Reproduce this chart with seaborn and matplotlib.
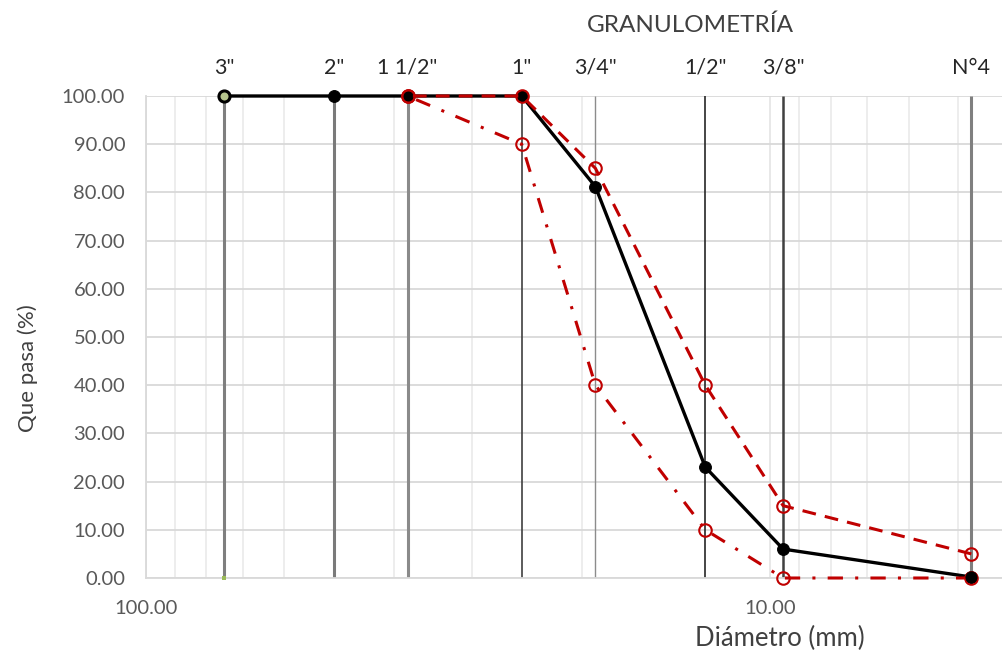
import matplotlib
matplotlib.use("Agg")
import matplotlib.pyplot as plt
import matplotlib.ticker as mticker
import seaborn as sns
import pandas as pd

# Sieve series (ASTM) and their openings in mm
sieve_labels = ['3"', '2"', '1 1/2"', '1"', '3/4"', '1/2"', '3/8"', 'N°4']
sieve_mm = [75.0, 50.0, 38.1, 25.0, 19.05, 12.7, 9.53, 4.76]

# Percent passing of the sample
passing = [100.0, 100.0, 100.0, 100.0, 81.2, 23.0, 6.0, 0.2]

# Specification band (from 1 1/2" down to N°4)
band_mm = [38.1, 25.0, 19.05, 12.7, 9.53, 4.76]
band_upper = [100, 100, 85, 40, 15, 5]
band_lower = [100, 90, 40, 10, 0, 0]

y_ticks = [0, 10, 20, 30, 40, 50, 60, 70, 80, 90, 100]

sns.set_theme(style="white")
plt.rcParams['font.family'] = ['Lato', 'DejaVu Sans']

W, H = 1002, 655
fig = plt.figure(figsize=(W / 100, H / 100), dpi=100)
ax = fig.add_axes([146 / W, 1 - 578 / H, (1002 - 146) / W, (578 - 96) / H])

RED = '#c00000'
TXT = '#595959'

ax.set_xscale('log')
ax.set_xlim(100, 4.25)
ax.set_ylim(0, 100)

# grid
ax.set_yticks(y_ticks)
ax.yaxis.set_major_formatter(mticker.FormatStrFormatter('%.2f'))
ax.xaxis.set_major_locator(mticker.FixedLocator([100, 10]))
ax.xaxis.set_major_formatter(mticker.FormatStrFormatter('%.2f'))
ax.xaxis.set_minor_locator(mticker.LogLocator(base=10, subs=range(2, 10)))
ax.xaxis.set_minor_formatter(mticker.NullFormatter())
ax.grid(True, which='major', axis='y', color='#d9d9d9', lw=1.3)
ax.grid(True, which='major', axis='x', color='#e6e6e6', lw=1.3)
ax.grid(True, which='minor', axis='x', color='#ececec', lw=1.3)
ax.set_axisbelow(True)
ax.tick_params(axis='both', which='both', length=0)
ax.tick_params(axis='y', pad=15, labelsize=14.5, labelcolor=TXT)
ax.tick_params(axis='x', pad=16, labelsize=14.5, labelcolor=TXT)
for side in ['top', 'right']:
    ax.spines[side].set_visible(False)
for side in ['left', 'bottom']:
    ax.spines[side].set_color('#d9d9d9')
    ax.spines[side].set_linewidth(1.3)

# vertical sieve lines
sieve_styles = [('#7f7f7f', 2.2), ('#7a7a7a', 2.2), ('#8a8a8a', 2.2), ('#3f3f3f', 1.2),
                ('#8c8c8c', 1.0), ('#262626', 1.2), ('#404040', 1.8), ('#7f7f7f', 2.2)]
for mm, (c, lw) in zip(sieve_mm, sieve_styles):
    ax.vlines(mm, 0, 100, colors=c, lw=lw, zorder=1.5)

# sieve names along the top
top = ax.secondary_xaxis('top')
top.set_xticks(sieve_mm, sieve_labels)
top.xaxis.set_minor_locator(mticker.NullLocator())
top.tick_params(length=0, pad=13, labelsize=15.5, labelcolor='#262626')
top.spines['top'].set_visible(False)

# sample curve
df = pd.DataFrame({'mm': sieve_mm, 'pasa': passing})
sns.lineplot(data=df, x='mm', y='pasa', ax=ax, color='black', lw=2.4,
             marker='o', markersize=8.5, markeredgecolor='black',
             markerfacecolor='black', clip_on=False, zorder=4)
sns.scatterplot(x=sieve_mm[:1], y=passing[:1], ax=ax, s=64, color='#b5c48c',
                edgecolor='black', linewidth=2.2, clip_on=False, zorder=5)
sns.scatterplot(x=sieve_mm[:1], y=[0], ax=ax, s=12, marker='s', color='#9bbb59',
                linewidth=0, clip_on=False, zorder=5)

# specification limits
bdf = pd.DataFrame({'mm': band_mm, 'sup': band_upper, 'inf': band_lower})
sns.lineplot(data=bdf, x='mm', y='sup', ax=ax, color=RED, lw=2.2,
             marker='o', markersize=9, markerfacecolor='none',
             markeredgecolor=RED, markeredgewidth=1.5, clip_on=False, zorder=5)
ax.lines[-1].set_dashes([4.5, 3])
sns.lineplot(data=bdf, x='mm', y='inf', ax=ax, color=RED, lw=2.2,
             marker='o', markersize=9, markerfacecolor='none',
             markeredgecolor=RED, markeredgewidth=1.5, clip_on=False, zorder=5)
ax.lines[-1].set_dashes([5, 4, 1, 4])

# black marker at N°4 on top of the red ones
sns.scatterplot(x=sieve_mm[-1:], y=passing[-1:], ax=ax, s=64, color='black',
                edgecolor='black', clip_on=False, zorder=6)

ax.set_xlabel('')
ax.set_ylabel('')
fig.text(780 / W, 1 - 638 / H, 'Diámetro (mm)', ha='center', va='center',
         fontsize=18.5, color='#404040')
fig.text(28 / W, 1 - 368 / H, 'Que pasa (%)', ha='center', va='center',
         rotation=90, fontsize=16, color='#404040')
fig.text(690 / W, 1 - 25 / H, 'GRANULOMETRÍA', ha='center', va='center',
         fontsize=17.5, color='#404040')

fig.savefig('out.png', dpi=100)
